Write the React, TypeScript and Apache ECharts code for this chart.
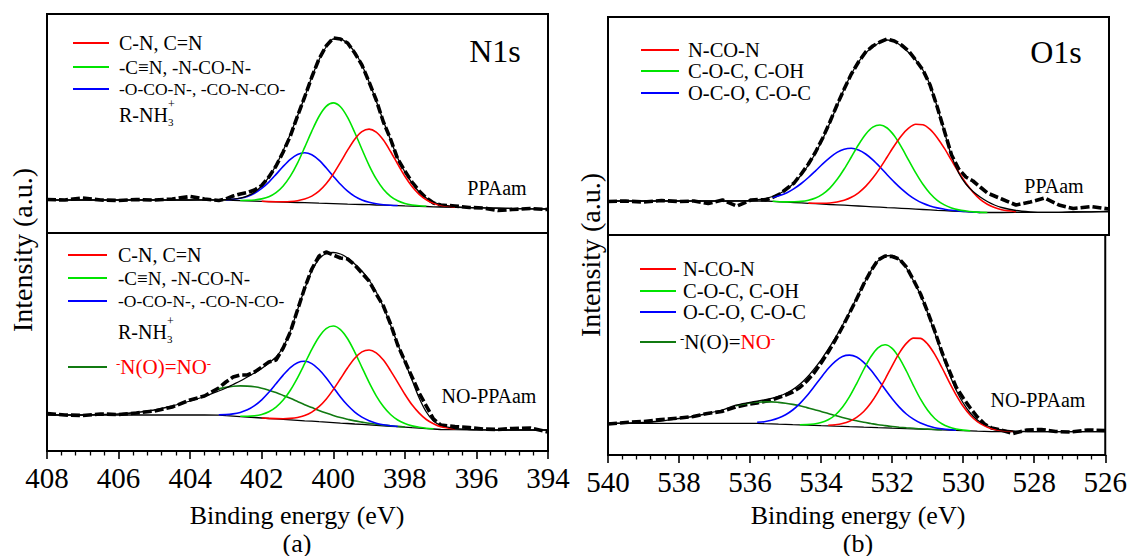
import React, { useEffect, useRef } from "react";
import * as echarts from "echarts";

// ---------- energy grids (eV) ----------
const N_E = [408, 407.5, 407, 406.5, 406, 405.5, 405, 404.5, 404, 403.6,
  403.2, 403.0, 402.8, 402.6, 402.4, 402.2, 402.0, 401.8, 401.6, 401.4,
  401.2, 401.0, 400.8, 400.6, 400.4, 400.2, 400.0, 399.8, 399.6, 399.4,
  399.2, 399.0, 398.8, 398.6, 398.4, 398.2, 398.0, 397.8, 397.6, 397.4,
  397.2, 397.0,
  396.6, 396.2, 395.8, 395.4, 395.0, 394.5, 394];

const O_E = [540, 539.5, 539, 538.5, 538, 537.6, 537.2, 536.8, 536.4,
  536.0, 535.8, 535.6, 535.4, 535.2, 535.0, 534.8, 534.6, 534.4, 534.2,
  534.0, 533.8, 533.6, 533.4, 533.2, 533.0, 532.8, 532.6, 532.4, 532.2,
  532.0, 531.8, 531.6, 531.4, 531.2, 531.0, 530.8, 530.6, 530.4, 530.2,
  530.0, 529.8, 529.6, 529.4, 529.2, 529.0,
  528.6, 528.2, 527.8, 527.4, 527.0, 526.5, 526];

const _ = null;

// ---------- N1s, PPAam ----------
const n1BG = [33, 33, 33, 33, 33, 33, 33, 33, 33, 33,
  33.0, 32.8, 32.6, 32.3, 32.1, 31.9, 31.7, 31.4, 31.2, 31.0,
  30.7, 30.5, 30.3, 30.1, 29.8, 29.6, 29.4, 29.2, 28.9, 28.7,
  28.5, 28.3, 28.0, 27.8, 27.6, 27.4, 27.1, 26.9, 26.7, 26.5,
  26.2, 26.0,
  25.7, 25.4, 25.1, 24.8, 24.5, 24.2, 24.0];
const n1Data = [33.5, 33, 35, 33, 32.5, 33.5, 33, 34, 36.5, 34,
  32.5, 34, 37, 39, 40.5, 43, 47.5, 56, 67, 81,
  97, 117, 136, 156, 174, 187, 195, 194, 190, 180,
  168, 151, 133, 111, 94, 74, 62, 51, 42, 35,
  30, 28,
  27, 25.5, 25, 22.5, 23.5, 24.5, 23.5];
const n1Fit = [33, 33, 33, 33, 33, 33, 33, 33, 33, 33.1,
  33.2, 33.3, 33.8, 34.9, 37.1, 40.9, 47.0, 55.8, 67.8, 82.5,
  99, 117, 136, 156, 173, 186, 194, 194, 189, 181,
  168, 151, 132, 112, 93, 75, 61, 50, 41, 35,
  31, 28.5,
  26.3, 25.4, 25.1, 24.8, 24.5, 24.2, 24.0];
const n1Red = [_, _, _, _, _, _, _, _, _, _,
  _, _, _, _, _, _, 31.7, 31.4, 31.3, 31.3,
  31.5, 32.3, 33.9, 36.9, 41.8, 49.2, 59.0, 70.7, 82.8, 93.8,
  101.3, 103.9, 100.8, 92.9, 81.5, 68.9, 56.7, 46.5, 38.7, 33.3,
  29.8, 27.8,
  26.0, _, _, _, _, _, _];
const n1Green = [_, _, _, _, _, _, _, _, _, _,
  _, _, _, 32.5, 32.6, 33.0, 34.1, 36.2, 40.3, 47.0,
  56.8, 69.9, 85.6, 101.9, 116.5, 126.6, 130.1, 126.2, 115.6, 100.5,
  83.8, 67.7, 54.1, 43.8, 36.7, 32.2, 29.5, 28.0, 27.2, 26.7,
  _, _,
  _, _, _, _, _, _, _];
const n1Blue = [_, _, _, _, _, _, _, _, _, _,
  _, 33.3, 33.8, 34.7, 36.6, 39.8, 44.6, 50.9, 58.6, 66.6,
  73.7, 78.6, 80.2, 78.2, 72.8, 65.2, 56.8, 48.7, 41.8, 36.6,
  33.0, 30.7, 29.2, 28.3, 27.8, 27.5, _, _, _, _,
  _, _,
  _, _, _, _, _, _, _];

// ---------- N1s, NO-PPAam ----------
const n2BG = [36, 36, 36, 36, 36, 36, 36, 36, 36, 36,
  35.8, 35.3, 34.9, 34.4, 33.9, 33.5, 33.0, 32.5, 32.1, 31.6,
  31.2, 30.7, 30.2, 29.8, 29.3, 28.9, 28.4, 27.9, 27.5, 27.0,
  26.6, 26.1, 25.6, 25.2, 24.7, 24.3, 23.8, 23.3, 22.9, 22.4,
  22.0, 21.5,
  21.3, 21.2, 21.1, 21.0, 21.0, 21.0, 21.0];
const n2Data = [37.5, 36, 35.5, 37, 36.5, 38, 40, 44, 51, 55,
  63, 69, 74, 76, 76, 79, 84, 89, 91, 103,
  119, 141, 163, 182, 195, 199, 196, 193, 192, 186,
  178, 170, 157, 145, 127, 106, 90, 74, 58, 45,
  32, 26,
  24.5, 23.5, 22, 21.5, 22.5, 23, 19];
const n2Fit = [36.5, 36, 36, 36.5, 37, 38.5, 41, 45, 50, 54.5,
  60, 63, 66.5, 70, 74, 78, 82.5, 88, 94, 104,
  120, 141, 162, 180, 192, 197.5, 198.5, 197, 193, 187,
  180, 171, 159, 144, 126, 107, 89, 71, 53, 39,
  30, 26,
  22.5, 21.5, 21.2, 21, 21, 21, 21];
const n2Red = [_, _, _, _, _, _, _, _, _, _,
  _, _, _, _, _, _, 33.0, 32.6, 32.4, 32.3,
  32.6, 33.5, 35.4, 38.9, 44.3, 51.8, 61.4, 72.2, 83.2, 92.7,
  99.1, 101.0, 98.1, 90.9, 80.4, 68.6, 56.8, 46.2, 37.9, 31.5,
  27.2, 24.3,
  22.0, _, _, _, _, _, _];
const n2Green = [_, _, _, _, _, _, _, _, _, _,
  _, _, _, 34.8, 34.8, 35.3, 36.6, 39.2, 43.9, 50.9,
  60.8, 73.2, 87.3, 101.7, 114.0, 122.4, 125.0, 121.4, 112.2, 98.9,
  83.7, 68.6, 55.2, 44.5, 36.5, 31.0, 27.4, 25.1, 23.8, 22.8,
  22.2, _,
  _, _, _, _, _, _, _];
const n2Blue = [_, _, _, _, _, _, _, _, _, _,
  36.3, 36.4, 37.1, 38.6, 41.2, 45.4, 51.2, 58.7, 67.3, 75.9,
  83.4, 88.3, 89.7, 87.4, 81.5, 73.2, 63.6, 54.1, 45.7, 38.9,
  33.9, 30.3, 27.8, 26.3, 25.2, 24.5, _, _, _, _,
  _, _,
  _, _, _, _, _, _, _];
const n2NO = [_, _, _, _, _, _, _, _, _, _,
  62.1, 63.6, 64.7, 65.1, 64.9, 64.2, 62.8, 60.8, 58.4, 55.6,
  52.7, 49.5, 46.3, 43.4, 40.5, 37.9, 35.5, 33.4, 31.7, 30.1,
  28.9, 27.7, 26.7, 26.0, 25.2, 24.6, 24.0, _, _, _,
  _, _,
  _, _, _, _, _, _, _];

// ---------- O1s, PPAam ----------
const o1BG = [34, 34, 34, 34, 34, 34, 34, 34, 34,
  34, 34, 34, 33.6, 33.2, 32.8, 32.5, 32.1, 31.7, 31.3,
  30.9, 30.5, 30.2, 29.8, 29.4, 29.0, 28.6, 28.2, 27.8, 27.4,
  27.1, 26.7, 26.3, 25.9, 25.5, 25.1, 24.7, 24.4, 24.0, 23.6,
  23.3, 22.9, 22.5, 22.5, 22.5, 22.5,
  22.6, 22.6, 22.6, 22.7, 23, 23.2, 23.5];
const o1Data = [33.5, 34, 33, 34.5, 33.5, 34, 31.5, 35, 29,
  35, 35.5, 35, 37.5, 41, 46.5, 52, 61, 71, 83,
  97, 113, 130, 146, 161, 173, 183, 189, 193, 196,
  194, 190, 184, 175, 165, 150, 128, 104, 80, 66,
  58, 54, 48, 42, 39, 36,
  30, 33, 37, 30, 26.5, 28.5, 26];
const o1Fit = [34, 34, 34, 34, 34, 34, 34, 34, 34.2,
  34.7, 35.4, 36.5, 38.5, 41.5, 46, 52, 60, 70, 82,
  96, 112, 129, 146, 161, 173, 182, 188, 192.5, 195,
  193.5, 189, 182.5, 175, 165, 150, 128, 103, 79, 62,
  51, 43.5, 38, 33.5, 30, 27.5,
  24.5, 23.2, 22.7, 22.7, 23, 23.2, 23.5];
const o1Red = [_, _, _, _, _, _, _, _, _,
  _, _, _, _, _, _, _, _, 31.9, 31.7,
  31.7, 32.0, 33.0, 34.7, 37.7, 42.2, 48.6, 56.9, 66.9, 78.0,
  89.3, 99.3, 106.8, 110.7, 110.3, 105.6, 97.3, 86.6, 74.6, 62.7,
  52.0, 42.9, 35.7, 30.8, 27.4, 25.3,
  23.4, _, _, _, _, _, _];
const o1Green = [_, _, _, _, _, _, _, _, _,
  _, _, _, 33.7, 33.3, 33.1, 33.2, 33.6, 34.8, 37.0,
  40.9, 46.9, 55.4, 66.0, 78.0, 90.2, 100.7, 107.8, 110.0, 107.0,
  99.2, 87.9, 74.9, 62.1, 50.7, 41.5, 34.7, 30.1, 27.1, 25.1,
  24.0, 23.2, 22.6, 22.5, _, _,
  _, _, _, _, _, _, _];
const o1Blue = [_, _, _, _, _, _, _, _, _,
  _, _, _, 37.5, 39.4, 42.3, 46.4, 51.5, 57.5, 64.2,
  71.1, 77.4, 82.6, 85.8, 86.7, 85.0, 81.0, 75.1, 68.0, 60.3,
  52.9, 46.1, 40.2, 35.4, 31.7, 29.0, 27.1, 25.8, 24.7, 24.0,
  23.5, 23.0, 22.5, _, _, _,
  _, _, _, _, _, _, _];

// ---------- O1s, NO-PPAam ----------
const o2BG = [31.7, 31.7, 31.7, 31.7, 31.7, 31.7, 31.7, 31.7, 31.7,
  31.7, 31.6, 31.3, 31.1, 30.8, 30.6, 30.3, 30.1, 29.8, 29.6,
  29.3, 29.1, 28.8, 28.6, 28.3, 28.1, 27.8, 27.6, 27.3, 27.1,
  26.8, 26.6, 26.3, 26.1, 25.8, 25.6, 25.3, 25.1, 24.8, 24.6,
  24.3, 24.1, 23.8, 23.6, 23.3, 23.3,
  23.3, 23.3, 23.3, 23.3, 23.3, 23.3, 23.3];
const o2Data = [31, 32.5, 33.5, 35.5, 37, 38.5, 41.5, 43.5, 48,
  51, 52, 53.5, 55, 57.5, 60, 63, 67.5, 74, 82,
  92, 103, 115, 128, 142, 156, 171, 184, 195, 199,
  198.5, 196, 188, 175, 161, 143, 124, 103, 85, 68,
  57, 47, 38, 31, 27, 25.5,
  21.5, 25, 25.5, 23.5, 23, 25, 24.5];
const o2Fit = [31.7, 32, 32.5, 34, 36.5, 38.5, 41.5, 45, 49.8,
  52.6, 53.9, 55.1, 56.7, 58.7, 61.5, 65.4, 70.7, 77.5, 85.9,
  95.2, 105.8, 117.1, 129.5, 142.9, 157.0, 171.0, 183.9, 194.1, 199.0,
  199.5, 195.5, 187, 174, 160, 142, 122, 101, 82, 65,
  52, 42, 35, 30.5, 27.5, 25.5,
  24, 23.5, 23.3, 23.3, 23.3, 23.3, 23.3];
const o2Red = [_, _, _, _, _, _, _, _, _,
  _, _, _, _, _, _, _, _, _, _,
  _, 29.8, 30.3, 31.5, 33.8, 37.7, 43.5, 52.0, 62.9, 75.7,
  89.2, 101.9, 111.6, 116.9, 116.6, 110.9, 100.6, 87.5, 73.4, 60.2,
  48.7, 39.8, 33.4, 29.1, 26.2, 24.8,
  23.6, _, _, _, _, _, _];
const o2Green = [_, _, _, _, _, _, _, _, _,
  _, _, _, _, _, _, _, 30.3, 30.4, 31.0,
  32.4, 35.2, 40.0, 47.7, 58.3, 71.4, 85.5, 98.2, 107.2, 110.3,
  106.7, 97.2, 84.0, 69.4, 55.8, 44.7, 36.5, 31.2, 27.9, 26.0,
  24.9, 24.3, _, _, _, _,
  _, _, _, _, _, _, _];
const o2Blue = [_, _, _, _, _, _, _, _, _,
  _, 32.7, 33.3, 34.7, 36.9, 40.3, 45.0, 51.4, 59.2, 68.2,
  77.6, 86.5, 93.7, 98.5, 99.9, 98.0, 92.7, 85.0, 75.6, 65.7,
  56.2, 47.9, 41.0, 35.8, 31.9, 29.2, 27.3, 26.2, 25.4, 24.9,
  _, _, _, _, _, _,
  _, _, _, _, _, _, _];
const o2NO = [_, _, _, _, _, _, _, _, 49.3,
  52.0, 52.8, 53.1, 53.1, 52.6, 51.8, 50.6, 49.2, 47.4, 45.6,
  43.5, 41.6, 39.5, 37.6, 35.8, 34.2, 32.7, 31.5, 30.3, 29.4,
  28.5, 27.8, 27.2, 26.7, 26.2, 25.9, 25.5, 25.2, _, _,
  _, _, _, _, _, _,
  _, _, _, _, _, _, _];

// ---------- labels ----------
const N_TICKS = { min: 394, max: 408 };
const O_TICKS = { min: 526, max: 540 };
const N_LEGEND = ["C-N, C=N", "-C\u2261N, -N-CO-N-", "-O-CO-N-, -CO-N-CO-"];
const O_LEGEND = ["N-CO-N", "C-O-C, C-OH", "O-C-O, C-O-C"];
const X_TITLE = "Binding energy (eV)";
const Y_TITLE = "Intensity (a.u.)";

const RED = "#ff0000";
const GREEN = "#00e400";
const BLUE = "#0000ff";
const DKGREEN = "#117a11";
const SERIF = "Liberation Serif";

const pts = (xs: number[], ys: (number | null)[]) =>
  xs.map((x, i) => (ys[i] == null ? null : [x, ys[i]])).filter((p) => p !== null);

function panel(idx: number, xs: number[], data: any[], fit: any[], bg: any[], comps: [any[], string][]) {
  const base = { type: "line", xAxisIndex: idx, yAxisIndex: idx, symbol: "none", silent: true };
  const out: any[] = [
    { ...base, name: "data" + idx, data: pts(xs, data), lineStyle: { color: "#000", width: 3.6, type: [9, 3] }, z: 2 },
    { ...base, name: "bg" + idx, data: pts(xs, bg), lineStyle: { color: "#000", width: 1.3 }, z: 3 },
  ];
  comps.forEach(([vals, color], k) => {
    out.push({ ...base, name: "c" + idx + "_" + k, data: pts(xs, vals), smooth: 0.3, lineStyle: { color, width: 1.6 }, z: 4 });
  });
  out.push({ ...base, name: "fit" + idx, data: pts(xs, fit), smooth: 0.3, lineStyle: { color: "#000", width: 1.3 }, z: 5 });
  return out;
}

const txt = (x: number, y: number, text: string, size: number, extra: any = {}) => ({
  type: "text", x, y, silent: true, ...extra,
  style: { text, fill: "#000", fontSize: size, fontFamily: SERIF, align: "left", verticalAlign: "middle", ...(extra.style || {}) },
});
const leg = (x: number, y: number, text: string, size: number) =>
  txt(x, y, text, size, { style: { lineHeight: 17 } });
const seg = (x1: number, x2: number, y: number, color: string) => ({
  type: "line", silent: true, shape: { x1, y1: y, x2, y2: y }, style: { stroke: color, lineWidth: 2 },
});

function buildOption() {
  const grids = [
    { left: 47, top: 14, width: 501, height: 219 },
    { left: 47, top: 233, width: 501, height: 218 },
    { left: 608, top: 17, width: 501, height: 218 },
    { left: 608, top: 235, width: 501, height: 220 },
  ].map((g) => ({ ...g, show: true, borderColor: "#000", borderWidth: 2, backgroundColor: "transparent" }));

  const bottomAxis = (gi: number, r: { min: number; max: number }) => ({
    type: "value", gridIndex: gi, min: r.min, max: r.max, interval: 2, inverse: true,
    axisLine: { show: true, onZero: false, lineStyle: { color: "#000", width: 2 } },
    axisTick: { show: true, length: 8, lineStyle: { color: "#000", width: 1.6 } },
    minorTick: { show: true, splitNumber: 5, length: 4.5, lineStyle: { color: "#000", width: 1.3 } },
    splitLine: { show: false }, minorSplitLine: { show: false },
    axisLabel: { show: true, fontSize: 29, color: "#000", fontFamily: SERIF, margin: 12, showMinLabel: true, showMaxLabel: true },
  });
  const hiddenAxis = (gi: number, r: { min: number; max: number }) => ({
    type: "value", gridIndex: gi, min: r.min, max: r.max, inverse: true, show: false,
  });

  const xAxis = [hiddenAxis(0, N_TICKS), bottomAxis(1, N_TICKS), hiddenAxis(2, O_TICKS), bottomAxis(3, O_TICKS)];
  const yAxis = [219, 218, 218, 220].map((h, i) => ({ type: "value", gridIndex: i, min: 0, max: h, show: false }));

  const series = [
    ...panel(0, N_E, n1Data, n1Fit, n1BG, [[n1Blue, BLUE], [n1Green, GREEN], [n1Red, RED]]),
    ...panel(1, N_E, n2Data, n2Fit, n2BG, [[n2NO, DKGREEN], [n2Blue, BLUE], [n2Green, GREEN], [n2Red, RED]]),
    ...panel(2, O_E, o1Data, o1Fit, o1BG, [[o1Blue, BLUE], [o1Green, GREEN], [o1Red, RED]]),
    ...panel(3, O_E, o2Data, o2Fit, o2BG, [[o2NO, DKGREEN], [o2Blue, BLUE], [o2Green, GREEN], [o2Red, RED]]),
  ];

  const graphic: any[] = [
    // N1s PPAam legend
    seg(73, 109, 43, RED), seg(73, 109, 67, GREEN), seg(73, 109, 89, BLUE),
    leg(119, 43, N_LEGEND[0], 20), leg(119, 67, N_LEGEND[1], 19), leg(119, 89, N_LEGEND[2], 17.5),
    leg(119, 115, "R-NH", 20), txt(168, 122, "3", 11, { style: { lineHeight: 10 } }),
    txt(168, 104, "+", 12, { style: { lineHeight: 10 } }),
    txt(495, 51, "N1s", 32, { style: { align: "center" } }),
    txt(497, 188, "PPAam", 20, { style: { align: "center" } }),
    // N1s NO-PPAam legend
    seg(68, 107, 255, RED), seg(68, 107, 278, GREEN), seg(68, 107, 301, BLUE), seg(68, 107, 367, DKGREEN),
    leg(118, 255, N_LEGEND[0], 20), leg(118, 278, N_LEGEND[1], 19), leg(118, 301, N_LEGEND[2], 17.5),
    leg(118, 332, "R-NH", 20), txt(167, 339, "3", 11, { style: { lineHeight: 10 } }),
    txt(167, 321, "+", 12, { style: { lineHeight: 10 } }),
    txt(116, 367, "{s|-}N(O)=NO{s|-}", 21, {
      style: { fill: RED, rich: { s: { fontSize: 13, fill: RED, verticalAlign: "top", fontFamily: SERIF } } },
    }),
    txt(489, 396, "NO-PPAam", 20, { style: { align: "center" } }),
    // O1s PPAam legend
    seg(641, 679, 50, RED), seg(641, 679, 71, GREEN), seg(641, 679, 93, BLUE),
    leg(688, 50, O_LEGEND[0], 20.5), leg(688, 71, O_LEGEND[1], 20.5), leg(688, 93, O_LEGEND[2], 20.5),
    txt(1056, 52, "O1s", 32, { style: { align: "center" } }),
    txt(1054, 186, "PPAam", 20, { style: { align: "center" } }),
    // O1s NO-PPAam legend
    seg(640, 676, 269, RED), seg(640, 676, 291, GREEN), seg(640, 676, 312, BLUE), seg(640, 676, 342, DKGREEN),
    leg(683, 269, O_LEGEND[0], 20.5), leg(683, 291, O_LEGEND[1], 20.5), leg(683, 312, O_LEGEND[2], 20.5),
    txt(680, 342, "{s|-}N(O)={r|NO}{rs|-}", 21, {
      style: {
        rich: {
          s: { fontSize: 13, fill: "#000", verticalAlign: "top", fontFamily: SERIF },
          r: { fontSize: 21, fill: RED, fontFamily: SERIF },
          rs: { fontSize: 13, fill: RED, verticalAlign: "top", fontFamily: SERIF },
        },
      },
    }),
    txt(1038, 400, "NO-PPAam", 20, { style: { align: "center" } }),
    // axis titles
    txt(297, 515, X_TITLE, 26, { style: { align: "center" } }),
    txt(858, 515, X_TITLE, 26, { style: { align: "center" } }),
    txt(297, 543, "(a)", 26, { style: { align: "center" } }),
    txt(858, 543, "(b)", 26, { style: { align: "center" } }),
    txt(22, 250, Y_TITLE, 28, { rotation: Math.PI / 2, style: { align: "center" } }),
    txt(590, 255, Y_TITLE, 28, { rotation: Math.PI / 2, style: { align: "center" } }),
  ];

  return { animation: false, backgroundColor: "#fff", grid: grids, xAxis, yAxis, series, graphic };
}

export default function App() {
  const ref = useRef<HTMLDivElement>(null);
  useEffect(() => {
    const chart = echarts.init(ref.current as HTMLDivElement, null, { renderer: "svg" });
    chart.setOption(buildOption() as any);
    return () => chart.dispose();
  }, []);
  return (
    <div
      ref={ref}
      style={{ position: "fixed", left: 0, top: 0, width: 1130, height: 556, background: "#fff" }}
    />
  );
}
